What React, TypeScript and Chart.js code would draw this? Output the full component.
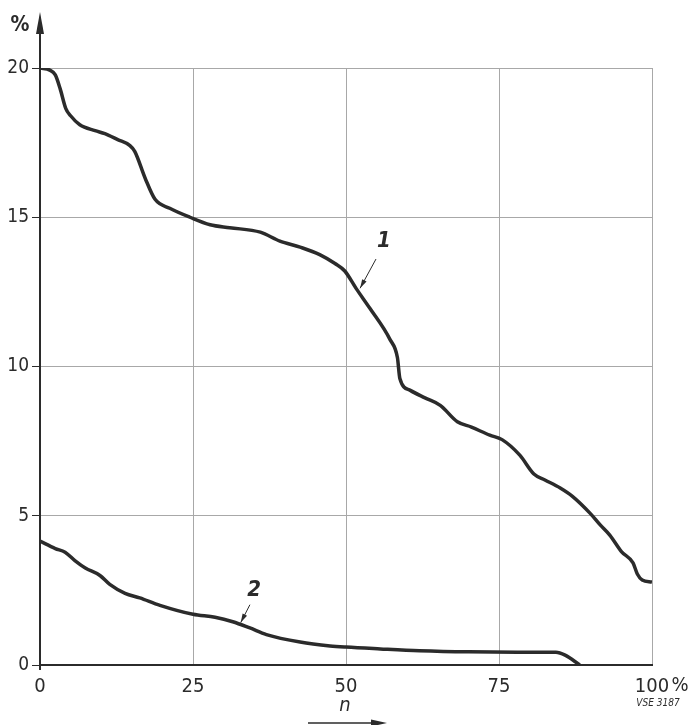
import React, { useEffect, useRef } from "react";
import { Chart, registerables } from "chart.js";

Chart.register(...registerables);

// Curve 1
const curve1X = [0, 1.6, 2.5, 3.3, 4.2, 5, 6.5, 9, 10.6, 12.7, 14.7, 15.5, 17.2, 18.8, 21.2, 24.5, 27.8, 31, 36, 39.2, 42.5, 45.7, 48.2, 49.8, 51.7, 53.9, 57.2, 58.4, 58.8, 60.5, 62.9, 65.4, 68.2, 70.5, 73.5, 75.5, 78.4, 80.7, 82.5, 85, 87, 89.9, 91.5, 93.1, 95, 96.9, 97.6, 98.4, 100];
const curve1Y = [20, 19.93, 19.77, 19.3, 18.65, 18.4, 18.1, 17.9, 17.8, 17.6, 17.4, 17.2, 16.3, 15.6, 15.3, 15.0, 14.75, 14.65, 14.5, 14.2, 14.0, 13.75, 13.45, 13.2, 12.6, 11.95, 10.9, 10.3, 9.6, 9.2, 8.95, 8.7, 8.15, 7.97, 7.7, 7.55, 7.03, 6.4, 6.2, 5.93, 5.65, 5.08, 4.7, 4.35, 3.8, 3.42, 3.05, 2.85, 2.78];

// Curve 2
const curve2X = [0, 2.5, 4.1, 5.7, 7.4, 9.8, 11.4, 13.9, 16.3, 19.6, 25, 28.6, 31.5, 34.3, 37, 42.5, 47.4, 50, 55.6, 62, 70, 78, 84.3, 85.8, 88.2];
const curve2Y = [4.15, 3.9, 3.78, 3.5, 3.25, 3.0, 2.7, 2.4, 2.25, 2.0, 1.7, 1.6, 1.45, 1.24, 1.02, 0.77, 0.64, 0.6, 0.54, 0.48, 0.44, 0.43, 0.43, 0.33, 0];

// Axis ticks
const xTicks = [0, 25, 50, 75, 100];
const yTicks = [0, 5, 10, 15, 20];

// Curve labels: [text, labelX, labelY, arrowFromX, arrowFromY, arrowToX, arrowToY] in data units
const curveLabels: [string, number, number, number, number, number, number][] = [
  ["1", 56.2, 14.2, 54.9, 13.6, 52.3, 12.62],
  ["2", 35.0, 2.5, 34.3, 2.02, 32.8, 1.42],
];

const FONT = '"DejaVu Sans Condensed", "Liberation Sans Narrow", "DejaVu Sans", sans-serif';
const INK = "#2b2b2b";

function toPoints(xs: number[], ys: number[]) {
  return xs.map((x, i) => ({ x, y: ys[i] }));
}

function arrowHead(ctx: CanvasRenderingContext2D, x1: number, y1: number, x2: number, y2: number, len: number, half: number) {
  const a = Math.atan2(y2 - y1, x2 - x1);
  ctx.beginPath();
  ctx.moveTo(x2, y2);
  ctx.lineTo(x2 - len * Math.cos(a) + half * Math.sin(a), y2 - len * Math.sin(a) - half * Math.cos(a));
  ctx.lineTo(x2 - len * Math.cos(a) - half * Math.sin(a), y2 - len * Math.sin(a) + half * Math.cos(a));
  ctx.closePath();
  ctx.fill();
}

const annotations = {
  id: "annotations",
  afterDraw(chart: any) {
    const ctx: CanvasRenderingContext2D = chart.ctx;
    const xs = chart.scales.x;
    const ys = chart.scales.y;
    const area = chart.chartArea;
    ctx.save();
    ctx.fillStyle = INK;
    ctx.strokeStyle = INK;

    // Y axis extension with arrow
    ctx.lineWidth = 2;
    ctx.beginPath();
    ctx.moveTo(area.left, area.bottom + 5);
    ctx.lineTo(area.left, area.top - 36);
    ctx.stroke();
    arrowHead(ctx, area.left, area.top, area.left, area.top - 56, 22, 4);

    // % unit on Y axis
    ctx.font = `bold 21px ${FONT}`;
    ctx.textAlign = "center";
    ctx.textBaseline = "middle";
    ctx.fillText("%", area.left - 20, area.top - 42);

    // % after 100
    ctx.font = `20px ${FONT}`;
    ctx.fillText("%", xs.getPixelForValue(100) + 28, area.bottom + 21);

    // VSE 3187
    ctx.font = `italic 10px ${FONT}`;
    ctx.fillText("VSE 3187", xs.getPixelForValue(100) + 6, area.bottom + 38);

    // n with arrow
    const cx = xs.getPixelForValue(50);
    ctx.font = `italic 20px ${FONT}`;
    ctx.fillText("n", cx - 1, area.bottom + 41);
    ctx.lineWidth = 1.5;
    ctx.beginPath();
    ctx.moveTo(cx - 38, area.bottom + 58);
    ctx.lineTo(cx + 28, area.bottom + 58);
    ctx.stroke();
    arrowHead(ctx, cx - 38, area.bottom + 58, cx + 41, area.bottom + 58, 16, 3.5);

    // Curve labels with arrows
    for (const [t, lx, ly, ax, ay, bx, by] of curveLabels) {
      ctx.font = `bold italic 22px ${FONT}`;
      ctx.fillText(t, xs.getPixelForValue(lx), ys.getPixelForValue(ly));
      const x1 = xs.getPixelForValue(ax), y1 = ys.getPixelForValue(ay);
      const x2 = xs.getPixelForValue(bx), y2 = ys.getPixelForValue(by);
      ctx.lineWidth = 1;
      ctx.beginPath();
      ctx.moveTo(x1, y1);
      ctx.lineTo(x2, y2);
      ctx.stroke();
      arrowHead(ctx, x1, y1, x2, y2, 9, 2.5);
    }
    ctx.restore();
  },
};

export default function App() {
  const ref = useRef<HTMLCanvasElement>(null);
  useEffect(() => {
    if (!ref.current) return;
    const chart = new Chart(ref.current, {
      type: "scatter",
      data: {
        datasets: [
          {
            data: toPoints(curve1X, curve1Y),
            showLine: true,
            borderColor: INK,
            borderWidth: 3.5,
            pointRadius: 0,
            cubicInterpolationMode: "monotone",
          },
          {
            data: toPoints(curve2X, curve2Y),
            showLine: true,
            borderColor: INK,
            borderWidth: 3.5,
            pointRadius: 0,
            cubicInterpolationMode: "monotone",
          },
        ],
      },
      options: {
        animation: false,
        responsive: false,
        layout: { padding: { top: 68, right: 38, left: 0, bottom: 0 } },
        plugins: { legend: { display: false }, tooltip: { enabled: false } },
        scales: {
          x: {
            type: "linear",
            min: 0,
            max: 100,
            afterBuildTicks: (scale: any) => {
              scale.ticks = xTicks.map((v) => ({ value: v }));
            },
            afterFit: (scale: any) => {
              scale.height = 60;
            },
            ticks: {
              color: INK,
              font: { family: FONT, size: 20 },
              padding: 5,
              maxRotation: 0,
              autoSkip: false,
            },
            grid: { color: "#a8a8a8", lineWidth: 1, drawTicks: true, tickLength: 5, tickColor: "transparent" },
            border: { color: INK, width: 2 },
          },
          y: {
            type: "linear",
            min: 0,
            max: 20,
            afterBuildTicks: (scale: any) => {
              scale.ticks = yTicks.map((v) => ({ value: v }));
            },
            afterFit: (scale: any) => {
              scale.width = 40;
            },
            ticks: {
              color: INK,
              font: { family: FONT, size: 19 },
              padding: 3,
            },
            grid: { color: "#a8a8a8", lineWidth: 1, drawTicks: true, tickLength: 8, tickColor: INK },
            border: { color: INK, width: 2 },
          },
        },
      },
      plugins: [annotations],
    });
    return () => chart.destroy();
  }, []);
  return (
    <div style={{ position: "fixed", left: 0, top: 0, width: 690, height: 725, background: "#fff" }}>
      <canvas ref={ref} width={690} height={725} />
    </div>
  );
}
